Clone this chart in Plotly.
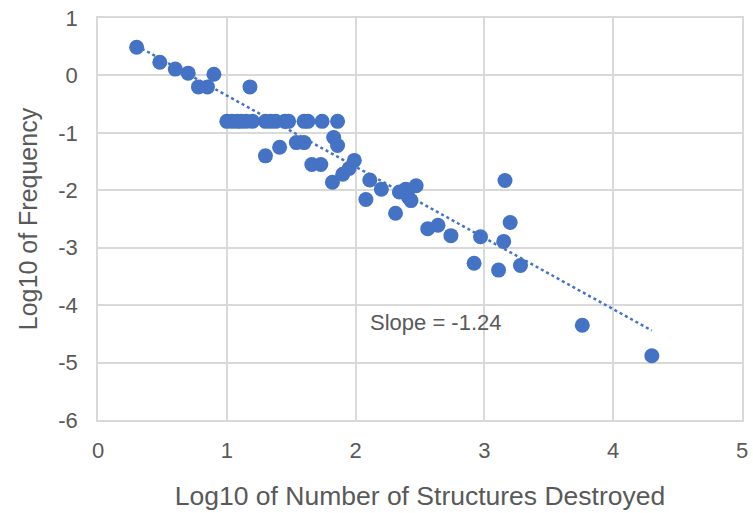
import plotly.graph_objects as go

log_structures = [0.30, 0.48, 0.60, 0.70, 0.78, 0.85, 0.90, 1.18,
                  1.00, 1.04, 1.08, 1.11, 1.15, 1.20, 1.30, 1.34, 1.38, 1.45, 1.48, 1.60, 1.63, 1.74, 1.86,
                  1.30, 1.41, 1.54, 1.60, 1.83, 1.86, 1.66, 1.73, 1.82, 1.90, 1.95, 1.99,
                  2.08, 2.11, 2.20, 2.31, 2.34, 2.39, 2.41, 2.43, 2.47, 2.56, 2.64, 2.74,
                  2.97, 2.92, 3.11, 3.15, 3.16, 3.20, 3.28, 3.76, 4.30]
log_frequency = [0.49, 0.23, 0.11, 0.04, -0.20, -0.20, 0.02, -0.20,
                 -0.80, -0.80, -0.80, -0.80, -0.80, -0.80, -0.80, -0.80, -0.80, -0.80, -0.80, -0.80, -0.80, -0.80, -0.80,
                 -1.40, -1.25, -1.17, -1.17, -1.08, -1.22, -1.55, -1.55, -1.86, -1.72, -1.62, -1.48,
                 -2.16, -1.82, -1.98, -2.40, -2.03, -1.98, -2.12, -2.18, -1.92, -2.67, -2.61, -2.79,
                 -2.81, -3.27, -3.39, -2.89, -1.83, -2.56, -3.31, -4.35, -4.88]

trend_slope = -1.24
trend_intercept = 0.89
trend_x = [min(log_structures), max(log_structures)]
trend_y = [trend_intercept + trend_slope * v for v in trend_x]

x_ticks = [0, 1, 2, 3, 4, 5]
x_tick_labels = ["0", "1", "2", "3", "4", "5"]
y_ticks = [1, 0, -1, -2, -3, -4, -5, -6]
y_tick_labels = ["1", "0", "-1", "-2", "-3", "-4", "-5", "-6"]

blue = "#4472C4"
grey_text = "#595959"
grid = "#d9d9d9"
font_family = "Liberation Sans, Arial, sans-serif"

fig = go.Figure()
fig.add_trace(go.Scatter(x=trend_x, y=trend_y, mode="lines",
                         line=dict(color=blue, width=2.5, dash="dot"), showlegend=False,
                         hoverinfo="skip"))
fig.add_trace(go.Scatter(x=log_structures, y=log_frequency, mode="markers",
                         marker=dict(color=blue, size=15), showlegend=False))

fig.add_annotation(x=2.62, y=-4.31, text="Slope = -1.24", showarrow=False,
                   font=dict(size=22, color=grey_text, family=font_family))

fig.update_layout(
    width=753, height=513,
    margin=dict(l=98, r=5, t=18, b=93),
    plot_bgcolor="white", paper_bgcolor="white",
    font=dict(family=font_family, color=grey_text, size=22),
    xaxis=dict(range=[0, 5], tickvals=x_ticks, ticktext=x_tick_labels,
               showgrid=True, gridcolor=grid, gridwidth=1.5,
               zeroline=False, showline=True, linecolor=grid, linewidth=1.5, mirror=True,
               ticks="", tickfont=dict(size=22, color=grey_text), ticklabelstandoff=10,
               title=dict(text="Log10 of Number of Structures Destroyed",
                          font=dict(size=26.5, color=grey_text), standoff=24)),
    yaxis=dict(range=[-6, 1], tickvals=y_ticks, ticktext=y_tick_labels,
               showgrid=True, gridcolor=grid, gridwidth=1.5,
               zeroline=False, showline=True, linecolor=grid, linewidth=1.5, mirror=True,
               ticks="", tickfont=dict(size=22, color=grey_text), ticklabelstandoff=14,
               title=dict(text="Log10 of Frequency",
                          font=dict(size=25, color=grey_text), standoff=14)),
)

fig.write_html("out.html")
